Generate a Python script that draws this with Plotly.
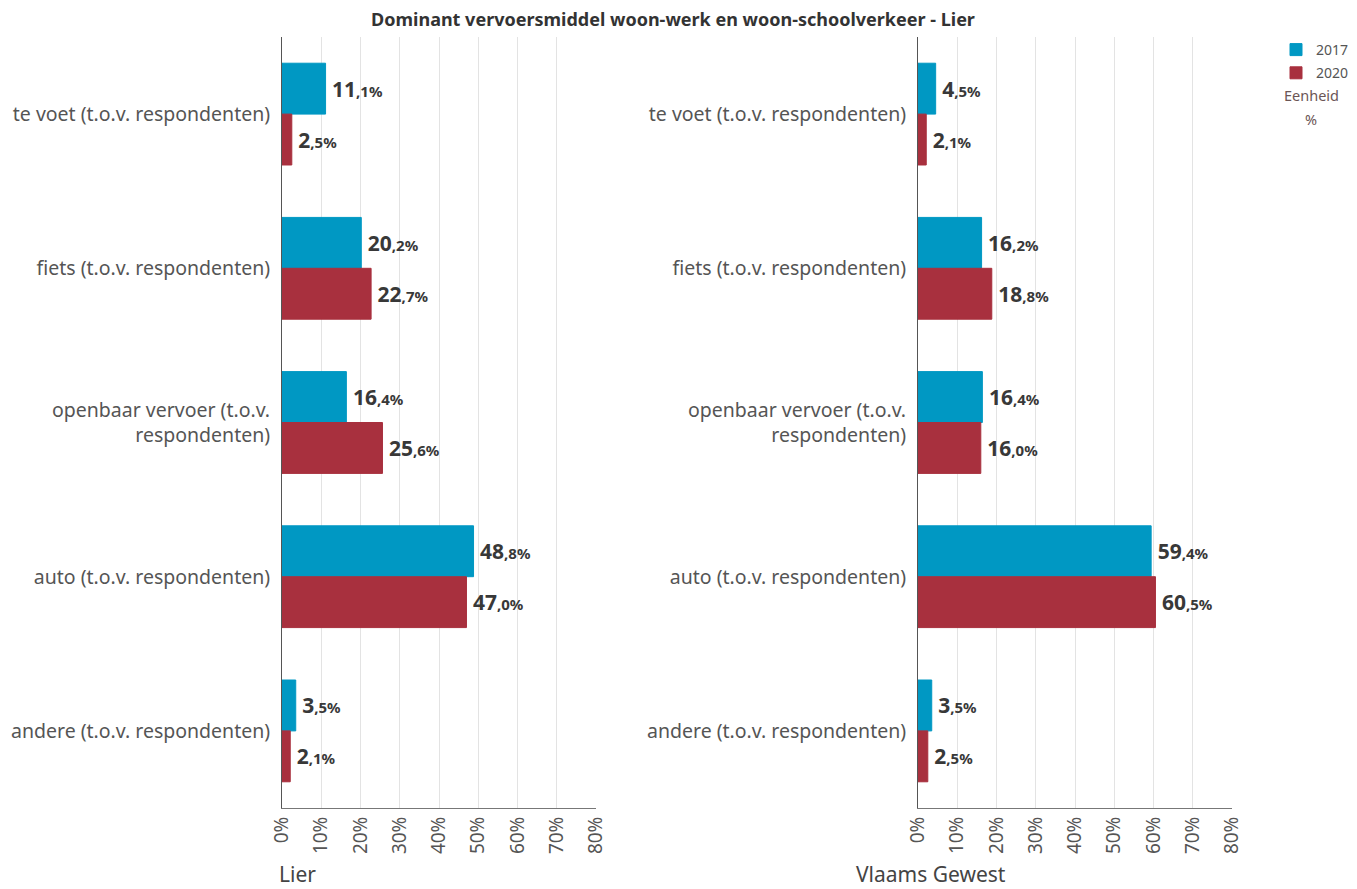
import plotly.graph_objects as go

categories = [
    "te voet (t.o.v. respondenten)",
    "fiets (t.o.v. respondenten)",
    "openbaar vervoer (t.o.v.<br>respondenten)",
    "auto (t.o.v. respondenten)",
    "andere (t.o.v. respondenten)",
]
years = ["2017", "2020"]
lier_2017 = [11.1, 20.2, 16.4, 48.8, 3.5]
lier_2020 = [2.5, 22.7, 25.6, 47.0, 2.1]
vl_2017 = [4.5, 16.2, 16.4, 59.4, 3.5]
vl_2020 = [2.1, 18.8, 16.0, 60.5, 2.5]
tick_vals = [0, 10, 20, 30, 40, 50, 60, 70, 80]

colors = {"2017": "#0098C3", "2020": "#A8303E"}
OFF = 8  # page body margin
W, H = 1357 - OFF, 889 - OFF
FONT = "Noto Sans"


def px(x):
    return (x - OFF) / W


def py(y):
    return 1 - (y - OFF) / H


def fmt(v):
    s = f"{v:.1f}".split(".")
    return f"\u2009<b>{s[0]}</b><b><span style='font-size:15px'>,{s[1]}%</span></b>"


fig = go.Figure()
series = [
    ("x", "y", lier_2017, "2017", True),
    ("x", "y", lier_2020, "2020", True),
    ("x2", "y2", vl_2017, "2017", False),
    ("x2", "y2", vl_2020, "2020", False),
]
for xa, ya, vals, yr, show in series:
    fig.add_trace(go.Bar(
        y=categories, x=vals, orientation="h", name=yr,
        xaxis=xa, yaxis=ya, showlegend=show, legendgroup=yr,
        marker=dict(color=colors[yr], line=dict(color=colors[yr], width=1)),
        text=[fmt(v) for v in vals], textposition="outside",
        textfont=dict(family=FONT, size=21, color="#383838"),
        cliponaxis=False, hoverinfo="x+y",
    ))

y_dom = [py(808), py(37)]
xaxis_common = dict(
    range=[0, 80], tickvals=tick_vals, ticktext=[f"{t}%" for t in tick_vals],
    tickangle=-90, tickfont=dict(family=FONT, size=19, color="#555"),
    showgrid=True, gridcolor="#e3e3e3", gridwidth=1,
    showline=True, linecolor="#777", linewidth=1, zeroline=False,
    ticks="", fixedrange=True, automargin=False,
)
yaxis_common = dict(
    autorange="reversed", domain=y_dom,
    tickfont=dict(family=FONT, size=19.5, color="#555"),
    showline=True, linecolor="#555", linewidth=1, ticks="",
    showgrid=False, ticklabelstandoff=7, automargin=False,
)

fig.update_layout(
    width=W, height=H,
    margin=dict(l=0, r=0, t=0, b=0, autoexpand=False),
    paper_bgcolor="white", plot_bgcolor="white",
    barmode="group", bargap=0.34, bargroupgap=0,
    font=dict(family=FONT, color="#444"),
    title=dict(text="<b>Dominant vervoersmiddel woon-werk en woon-schoolverkeer - Lier</b>",
               x=px(673), xanchor="center", y=py(20), yanchor="middle",
               font=dict(family=FONT, size=18, color="#333")),
    xaxis=dict(domain=[px(282), px(596)], anchor="y", **xaxis_common),
    xaxis2=dict(domain=[px(918), px(1232)], anchor="y2", **xaxis_common),
    yaxis=dict(anchor="x", **yaxis_common),
    yaxis2=dict(anchor="x2", **yaxis_common),
    legend=dict(x=px(1276), y=py(34), xanchor="left", yanchor="top",
                font=dict(family=FONT, size=14, color="#555"),
                itemwidth=30, tracegroupgap=2, bgcolor="rgba(0,0,0,0)"),
    annotations=[
        dict(text="Eenheid", x=px(1311), y=py(95), xref="paper", yref="paper",
             showarrow=False, xanchor="center", yanchor="middle",
             font=dict(family=FONT, size=14.5, color="#6b5555")),
        dict(text="%", x=px(1311), y=py(119), xref="paper", yref="paper",
             showarrow=False, xanchor="center", yanchor="middle",
             font=dict(family=FONT, size=14.5, color="#6b5555")),
        dict(text="Lier", x=px(277), y=py(874), xref="paper", yref="paper",
             showarrow=False, xanchor="left", yanchor="middle",
             font=dict(family=FONT, size=21, color="#444")),
        dict(text="Vlaams Gewest", x=px(854), y=py(874), xref="paper", yref="paper",
             showarrow=False, xanchor="left", yanchor="middle",
             font=dict(family=FONT, size=21, color="#444")),
    ],
)

fig.write_html("out.html")
